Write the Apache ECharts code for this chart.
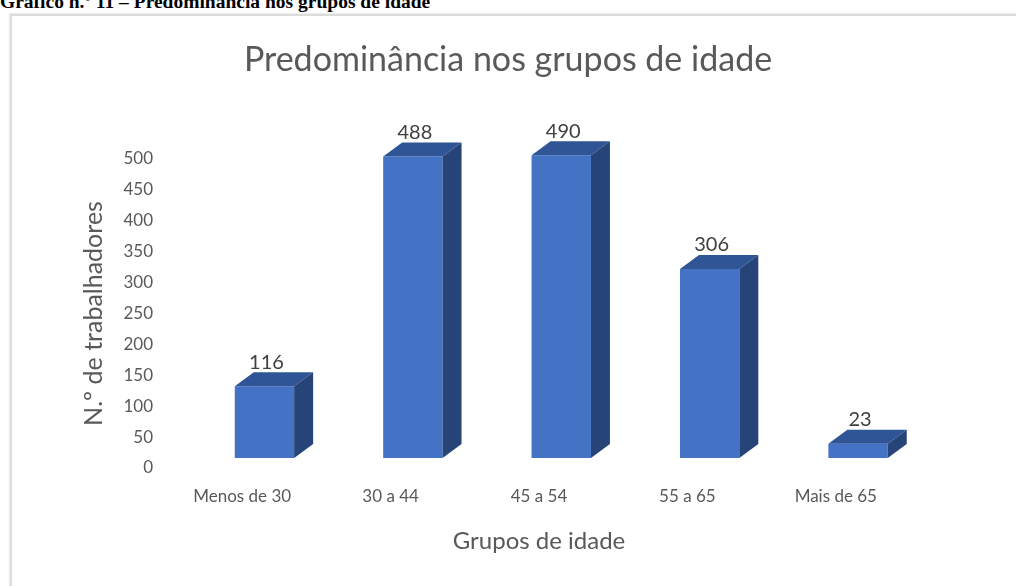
<!DOCTYPE html>
<html>
<head>
<meta charset="utf-8">
<script src="https://cdn.jsdelivr.net/npm/echarts@6/dist/echarts.min.js"></script>
<style>
  html, body { margin: 0; padding: 0; background: #fff; overflow: hidden; }
  #cap {
    position: absolute; left: 0; top: -8px; margin: 0;
    font: bold 19.5px "Liberation Serif", serif; line-height: 1; color: #000; white-space: nowrap;
  }
  #box {
    position: absolute; left: 10px; top: 14px; width: 1100px; height: 700px;
    border-left: 2px solid #dcdcdc; border-top: 2px solid #dcdcdc;
    box-shadow: -1px -1px 1px #eeeeee;
  }
  #main { position: absolute; left: 0; top: 0; width: 1016px; height: 586px; }
</style>
</head>
<body>
<div id="cap">Gráfico n.º 11 – Predominância nos grupos de idade</div>
<div id="box"></div>
<div id="main"></div>
<script>
  // dados do gráfico
  var categorias = ['Menos de 30', '30 a 44', '45 a 54', '55 a 65', 'Mais de 65'];
  var trabalhadores = [116, 488, 490, 306, 23];
  var yTicks = { min: 0, max: 500, interval: 50 };

  var fonte = 'Lato, "Open Sans", sans-serif';
  var corFrente = '#4472C4', corTopo = '#2F5597', corLado = '#264478';

  // barra "3D" desenhada a partir das coordenadas do eixo
  function barra3d(params, api) {
    var i = api.value(0), v = api.value(1);
    var topo = api.coord([i, v]);
    var base = api.coord([i, 0]);
    var banda = api.size([1, 0])[0];
    var w = banda * 0.4, dx = 19, dy = 14, sobe = 10, desloca = banda * 0.15;
    var x = topo[0] + desloca - w / 2;
    var yT = topo[1] - sobe, yB = base[1] - sobe;
    return {
      type: 'group',
      children: [
        { type: 'rect', shape: { x: x, y: yT, width: w, height: yB - yT }, style: { fill: corFrente } },
        { type: 'polygon', shape: { points: [[x, yT], [x + dx, yT - dy], [x + w + dx, yT - dy], [x + w, yT]] }, style: { fill: corTopo } },
        { type: 'polygon', shape: { points: [[x + w, yT], [x + w + dx, yT - dy], [x + w + dx, yB - dy], [x + w, yB]] }, style: { fill: corLado } },
        { type: 'text', x: x + w / 2 + 2, y: yT - dy,
          style: { text: String(v), fill: '#404040', font: '20px ' + fonte, align: 'center', verticalAlign: 'bottom' } }
      ]
    };
  }

  var chart = echarts.init(document.getElementById('main'));
  chart.setOption({
    animation: false,
    title: {
      text: 'Predominância nos grupos de idade',
      left: 'center', top: 38,
      textStyle: { fontFamily: fonte, fontSize: 34, fontWeight: 'normal', color: '#595959' }
    },
    grid: { left: 168, right: 106, top: 159, bottom: 118 },
    xAxis: {
      type: 'category',
      data: categorias,
      name: 'Grupos de idade',
      nameLocation: 'middle',
      nameGap: 61,
      nameTextStyle: { fontFamily: fonte, fontSize: 24, color: '#595959' },
      axisLine: { show: false },
      axisTick: { show: false },
      axisLabel: { margin: 20, fontFamily: fonte, fontSize: 17, color: '#595959' }
    },
    yAxis: {
      type: 'value',
      min: yTicks.min, max: yTicks.max, interval: yTicks.interval,
      name: 'N.º de trabalhadores',
      nameLocation: 'middle',
      nameGap: 62,
      nameTextStyle: { fontFamily: fonte, fontSize: 25, color: '#595959' },
      axisLine: { show: false },
      axisTick: { show: false },
      splitLine: { show: false },
      axisLabel: { margin: 15, fontFamily: fonte, fontSize: 17, color: '#595959' }
    },
    series: [{
      type: 'custom',
      renderItem: barra3d,
      data: trabalhadores.map(function (v, i) { return [i, v]; })
    }]
  });
</script>
</body>
</html>
